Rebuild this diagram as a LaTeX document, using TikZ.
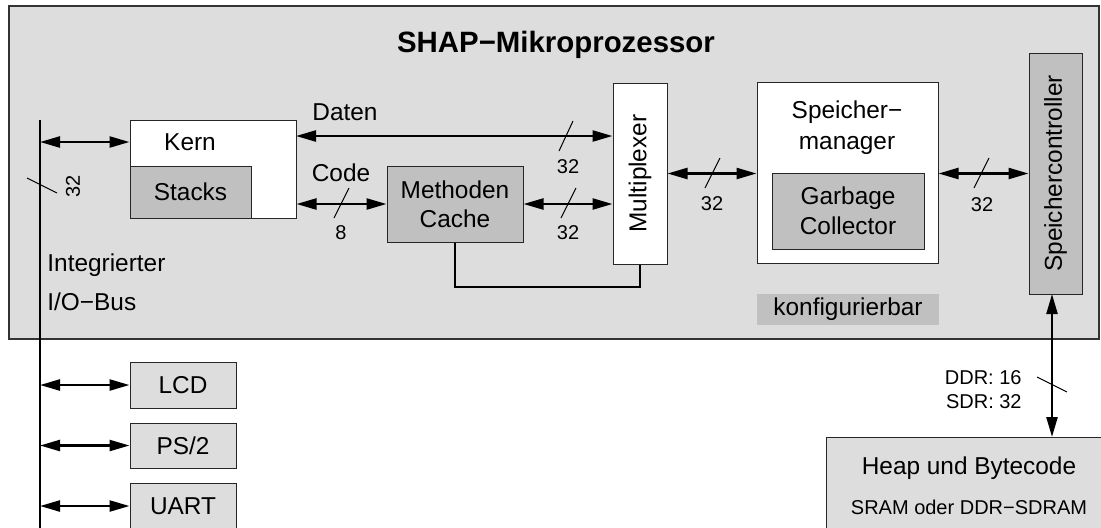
\documentclass[tikz,border=0pt]{standalone}
\usepackage{fontspec}
\setmainfont{Liberation Sans}
\usetikzlibrary{arrows.meta}
\definecolor{bglight}{RGB}{221,221,221}
\definecolor{boxgrey}{RGB}{192,192,192}
\tikzset{
  box/.style={draw=black!85, line width=0.5pt, inner sep=0pt, align=center,
    font=\fontsize{12.2}{14.6}\selectfont},
  txt/.style={inner sep=0pt, align=center, font=\fontsize{12.2}{15.5}\selectfont},
  small/.style={inner sep=0pt, align=center, font=\fontsize{10}{12}\selectfont},
  arr/.style={line width=1.2pt, {Triangle[length=10pt,width=5.5pt]}-{Triangle[length=10pt,width=5.5pt]}},
  slashline/.style={line width=0.5pt},
}
\begin{document}
\begin{tikzpicture}[x=0.5pt,y=-0.5pt]
\useasboundingbox (0,0) rectangle (1101,527);
\clip (0,0) rectangle (1101,527);
% chip
\node[draw=black!80, line width=0.8pt, fill=bglight, minimum width=545pt, minimum height=166.5pt, inner sep=0pt] (chip) at (554,172.5) {};
\node[inner sep=0pt, font=\fontsize{14.7}{17}\selectfont\bfseries] (title) at (556,45) {SHAP−Mikroprozessor};
% Kern
\node[box, fill=white, minimum width=83pt, minimum height=49pt] (kern) at (213,169) {};
\node[box, fill=boxgrey, minimum width=60.5pt, minimum height=26pt] (stacks) at (190.5,192) {Stacks};
\node[txt] (kerntxt) at (190,142) {Kern};
% Methoden Cache
\node[box, fill=boxgrey, minimum width=68pt, minimum height=38pt, font=\fontsize{12.2}{14.5}\selectfont] (meth) at (455,204) {Methoden\\Cache};
% Multiplexer
\node[box, fill=white, minimum width=27pt, minimum height=90.5pt] (mux) at (640,173.5) {};
\node[txt, rotate=90] (muxtxt) at (640,173.5) {Multiplexer};
% Speichermanager
\node[box, fill=white, minimum width=90.5pt, minimum height=90.5pt] (sm) at (847.5,172.5) {};
\node[txt] (smtxt) at (847,127.5) {Speicher−\\manager};
\node[box, fill=boxgrey, minimum width=76pt, minimum height=38pt, font=\fontsize{12.2}{15}\selectfont] (gc) at (848,211) {Garbage\\Collector};
% Speichercontroller
\node[box, fill=boxgrey, minimum width=26.5pt, minimum height=120.5pt] (sc) at (1055.5,173.5) {};
\node[txt, rotate=90] (sctxt) at (1055.5,173.5) {Speichercontroller};
% konfigurierbar
\node[fill=boxgrey, minimum width=91pt, minimum height=15.5pt, inner sep=0pt, font=\fontsize{12.2}{14.6}\selectfont] (konf) at (848,309.5) {konfigurierbar};
% Heap
\node[draw=black!85, line width=0.5pt, fill=bglight, anchor=north west, minimum width=150pt, minimum height=55pt, inner sep=0pt] (heap) at (826,437) {};
\node[txt] (heap1) at (969,468) {Heap und Bytecode};
\node[small] (heap2) at (969,507) {SRAM oder DDR−SDRAM};
% IO devices
\node[box, fill=bglight, minimum width=53pt, minimum height=23pt] (lcd) at (183,385) {LCD};
\node[box, fill=bglight, minimum width=53pt, minimum height=22.5pt] (ps2) at (183,445.5) {PS/2};
\node[box, fill=bglight, minimum width=53pt, minimum height=23pt] (uart) at (183,506) {UART};
% bus
\coordinate (bustop) at (40,120);
\coordinate (busbot) at (40,540);
\draw[line width=1.4pt] (bustop) -- (busbot);
\node[txt, anchor=west] (integ) at (47,265) {Integrierter};
\node[txt, anchor=west] (iobus) at (47,302) {I/O−Bus};
\coordinate (bs1) at (27,178);
\coordinate (bs2) at (57,193);
\draw[slashline] (bs1) -- (bs2);
\node[small, rotate=90] (bus32) at (73,186) {32};
% bus arrows
\coordinate (b1) at (40,142);
\draw[arr] (b1) -- (b1 -| kern.west);
\draw[arr] (lcd.west -| bustop) -- (lcd.west);
\draw[arr] (ps2.west -| bustop) -- (ps2.west);
\draw[arr] (uart.west -| bustop) -- (uart.west);
% Daten
\coordinate (d1) at (296,136);
\draw[arr] (d1) -- (d1 -| mux.west);
\node[txt] (daten) at (345,112) {Daten};
\coordinate (ds1) at (573,121);
\coordinate (ds2) at (559,151);
\draw[slashline] (ds1) -- (ds2);
\node[small] (d32) at (568,167) {32};
% Code
\draw[arr] (meth.west -| kern.east) -- (meth.west);
\node[txt] (code) at (341,173) {Code};
\coordinate (cs1) at (349,188);
\coordinate (cs2) at (334,218);
\draw[slashline] (cs1) -- (cs2);
\node[small] (c8) at (341,233) {8};
% Meth - Mux
\draw[arr] (meth.east) -- (meth.east -| mux.west);
\coordinate (ms1) at (576,188);
\coordinate (ms2) at (561,218);
\draw[slashline] (ms1) -- (ms2);
\node[small] (m32) at (568,233) {32};
% feedback
\coordinate (fb) at (640,287);
\draw[line width=1pt] (meth.south) -- (meth.south |- fb) -- (fb) -- (mux.south);
% Mux - SM
\draw[arr] (mux.east) -- (mux.east -| sm.west);
\coordinate (xs1) at (720,158);
\coordinate (xs2) at (705,188);
\draw[slashline] (xs1) -- (xs2);
\node[small] (x32) at (712,204) {32};
% SM - SC
\draw[arr] (sm.east |- mux.east) -- (mux.east -| sc.west);
\coordinate (ss1) at (989,158);
\coordinate (ss2) at (974,188);
\draw[slashline] (ss1) -- (ss2);
\node[small] (s32) at (982,205) {32};
% SC - Heap
\coordinate (sch) at (1052,294);
\draw[arr] (sch) -- (sch |- heap.north);
\coordinate (hs1) at (1037,377);
\coordinate (hs2) at (1067,392);
\draw[slashline] (hs1) -- (hs2);
\node[small, align=right, anchor=east] (ddr) at (1022,390) {DDR: 16\\SDR: 32};
\end{tikzpicture}
\end{document}
